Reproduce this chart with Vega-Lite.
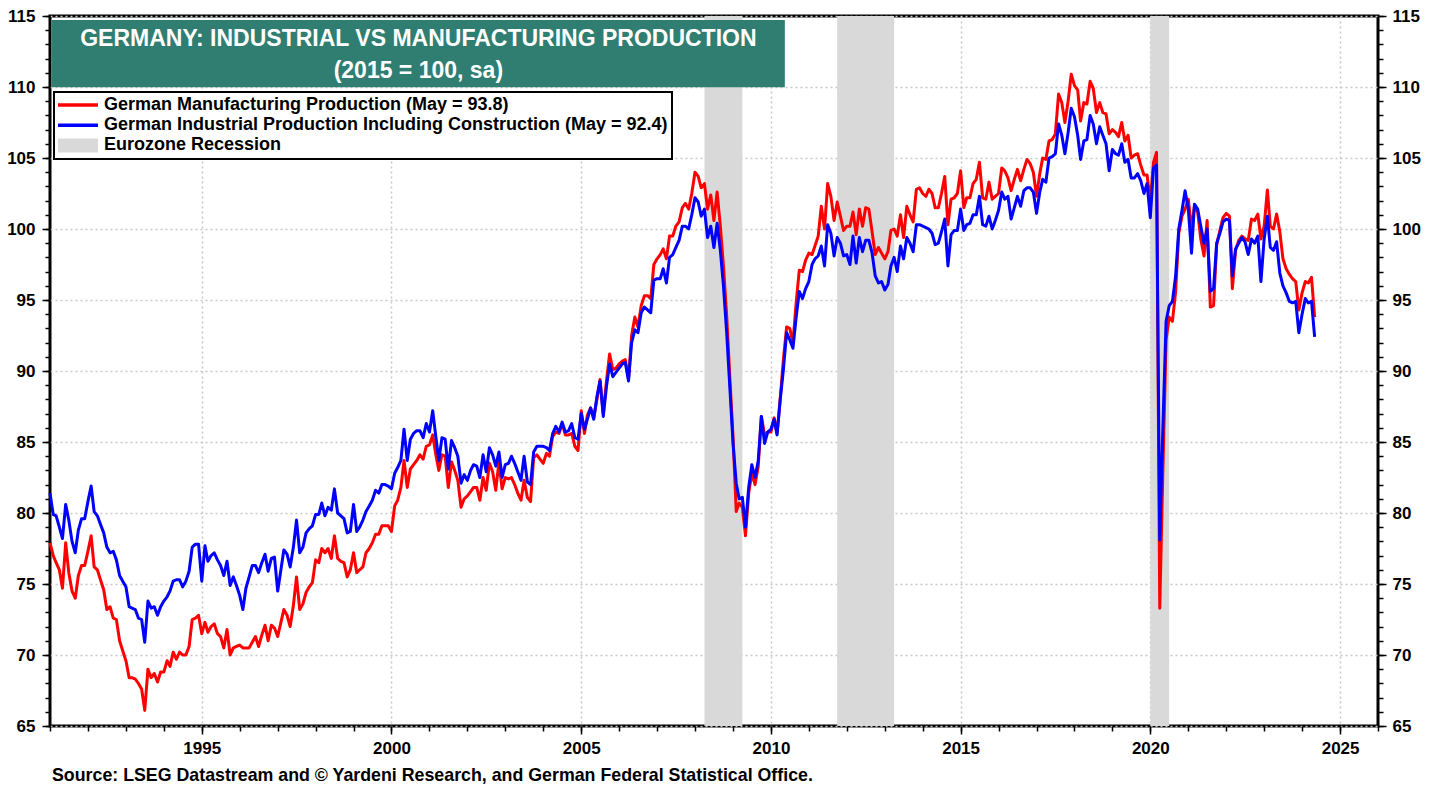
{
"$schema":"https://vega.github.io/schema/vega-lite/v6.json",
"width":1328,"height":710,"autosize":"none",
"padding":{"left":50,"top":16,"right":61,"bottom":63},
"background":"white",
"config":{"view":{"stroke":"black","strokeWidth":3},"font":"Liberation Sans",
"axis":{"labelFont":"Liberation Sans","labelFontWeight":"bold","labelColor":"black","labelFontSize":17,"tickColor":"black","tickWidth":1.5,"domain":false,"title":null,"gridColor":"#c8c8c8","gridDash":[2,3],"gridWidth":1.5}},
"title":{"text":"Source: LSEG Datastream and © Yardeni Research, and German Federal Statistical Office.","orient":"bottom","anchor":"start","frame":"group","font":"Liberation Sans","fontSize":17.8,"fontWeight":"bold","color":"black","offset":11,"dx":2},
"datasets":{
"rec":[{"s":"2008-04-01","e":"2009-04-01"},{"s":"2011-10-01","e":"2013-04-01"},{"s":"2020-01-01","e":"2020-07-01"}],
"ts":[
{"d":"1991-01","m":77.9,"i":81.4},{"d":"1991-02","m":77.0,"i":79.9},{"d":"1991-03","m":76.5,"i":79.8},{"d":"1991-04","m":76.0,"i":79.0},{"d":"1991-05","m":74.7,"i":78.2},{"d":"1991-06","m":77.9,"i":80.6},{"d":"1991-07","m":75.8,"i":79.5},{"d":"1991-08","m":74.5,"i":78.0},{"d":"1991-09","m":74.0,"i":77.2},{"d":"1991-10","m":75.6,"i":78.8},{"d":"1991-11","m":76.3,"i":79.6},{"d":"1991-12","m":76.3,"i":79.6},
{"d":"1992-01","m":77.3,"i":80.8},{"d":"1992-02","m":78.4,"i":81.9},{"d":"1992-03","m":76.2,"i":80.1},{"d":"1992-04","m":76.0,"i":79.8},{"d":"1992-05","m":75.3,"i":79.2},{"d":"1992-06","m":74.6,"i":78.6},{"d":"1992-07","m":73.2,"i":77.6},{"d":"1992-08","m":73.4,"i":77.2},{"d":"1992-09","m":72.6,"i":77.3},{"d":"1992-10","m":72.5,"i":76.7},{"d":"1992-11","m":71.0,"i":75.6},{"d":"1992-12","m":70.3,"i":75.2},
{"d":"1993-01","m":69.6,"i":74.8},{"d":"1993-02","m":68.4,"i":73.4},{"d":"1993-03","m":68.4,"i":73.3},{"d":"1993-04","m":68.3,"i":73.2},{"d":"1993-05","m":68.0,"i":72.6},{"d":"1993-06","m":67.6,"i":72.5},{"d":"1993-07","m":66.1,"i":70.9},{"d":"1993-08","m":69.0,"i":73.8},{"d":"1993-09","m":68.4,"i":73.3},{"d":"1993-10","m":68.7,"i":73.4},{"d":"1993-11","m":68.1,"i":72.8},{"d":"1993-12","m":68.8,"i":73.4},
{"d":"1994-01","m":68.8,"i":73.8},{"d":"1994-02","m":69.6,"i":74.1},{"d":"1994-03","m":69.2,"i":74.5},{"d":"1994-04","m":70.2,"i":75.2},{"d":"1994-05","m":69.7,"i":75.3},{"d":"1994-06","m":70.2,"i":75.3},{"d":"1994-07","m":70.0,"i":74.8},{"d":"1994-08","m":70.0,"i":75.2},{"d":"1994-09","m":70.6,"i":75.9},{"d":"1994-10","m":72.5,"i":77.6},{"d":"1994-11","m":72.6,"i":77.8},{"d":"1994-12","m":72.8,"i":77.8},
{"d":"1995-01","m":71.5,"i":75.2},{"d":"1995-02","m":72.3,"i":77.7},{"d":"1995-03","m":71.6,"i":76.6},{"d":"1995-04","m":72.0,"i":77.0},{"d":"1995-05","m":72.2,"i":77.2},{"d":"1995-06","m":71.5,"i":76.7},{"d":"1995-07","m":71.3,"i":76.3},{"d":"1995-08","m":70.5,"i":75.6},{"d":"1995-09","m":71.8,"i":76.6},{"d":"1995-10","m":70.0,"i":74.9},{"d":"1995-11","m":70.5,"i":75.5},{"d":"1995-12","m":70.6,"i":74.9},
{"d":"1996-01","m":70.7,"i":74.2},{"d":"1996-02","m":70.5,"i":73.2},{"d":"1996-03","m":70.5,"i":74.7},{"d":"1996-04","m":70.5,"i":75.5},{"d":"1996-05","m":70.9,"i":76.3},{"d":"1996-06","m":71.3,"i":76.3},{"d":"1996-07","m":70.6,"i":75.8},{"d":"1996-08","m":71.4,"i":76.5},{"d":"1996-09","m":72.1,"i":77.1},{"d":"1996-10","m":71.0,"i":75.9},{"d":"1996-11","m":72.1,"i":76.8},{"d":"1996-12","m":71.9,"i":76.9},
{"d":"1997-01","m":71.3,"i":74.5},{"d":"1997-02","m":72.3,"i":76.0},{"d":"1997-03","m":73.2,"i":77.4},{"d":"1997-04","m":72.8,"i":77.1},{"d":"1997-05","m":72.0,"i":76.2},{"d":"1997-06","m":73.5,"i":77.6},{"d":"1997-07","m":75.5,"i":79.5},{"d":"1997-08","m":73.2,"i":77.2},{"d":"1997-09","m":73.6,"i":77.6},{"d":"1997-10","m":74.4,"i":78.6},{"d":"1997-11","m":74.8,"i":78.9},{"d":"1997-12","m":75.1,"i":79.1},
{"d":"1998-01","m":76.7,"i":79.9},{"d":"1998-02","m":76.5,"i":79.9},{"d":"1998-03","m":77.5,"i":80.7},{"d":"1998-04","m":77.2,"i":79.8},{"d":"1998-05","m":77.5,"i":80.4},{"d":"1998-06","m":76.8,"i":80.2},{"d":"1998-07","m":78.4,"i":81.7},{"d":"1998-08","m":76.8,"i":80.0},{"d":"1998-09","m":76.6,"i":79.8},{"d":"1998-10","m":76.5,"i":79.6},{"d":"1998-11","m":75.5,"i":78.6},{"d":"1998-12","m":76.0,"i":78.7},
{"d":"1999-01","m":77.2,"i":80.6},{"d":"1999-02","m":75.8,"i":78.7},{"d":"1999-03","m":76.0,"i":79.0},{"d":"1999-04","m":76.2,"i":79.5},{"d":"1999-05","m":77.2,"i":80.1},{"d":"1999-06","m":77.5,"i":80.5},{"d":"1999-07","m":77.9,"i":80.9},{"d":"1999-08","m":78.5,"i":81.6},{"d":"1999-09","m":78.5,"i":81.4},{"d":"1999-10","m":79.1,"i":82.0},{"d":"1999-11","m":79.1,"i":82.0},{"d":"1999-12","m":79.1,"i":81.9},
{"d":"2000-01","m":78.7,"i":81.7},{"d":"2000-02","m":80.5,"i":82.8},{"d":"2000-03","m":80.9,"i":83.2},{"d":"2000-04","m":81.8,"i":83.7},{"d":"2000-05","m":83.7,"i":85.9},{"d":"2000-06","m":81.8,"i":83.7},{"d":"2000-07","m":83.1,"i":85.2},{"d":"2000-08","m":83.4,"i":85.6},{"d":"2000-09","m":83.7,"i":85.8},{"d":"2000-10","m":84.1,"i":85.8},{"d":"2000-11","m":83.8,"i":85.3},{"d":"2000-12","m":84.7,"i":86.3},
{"d":"2001-01","m":84.8,"i":85.7},{"d":"2001-02","m":85.5,"i":87.2},{"d":"2001-03","m":84.2,"i":85.5},{"d":"2001-04","m":83.0,"i":83.7},{"d":"2001-05","m":84.1,"i":85.3},{"d":"2001-06","m":84.0,"i":85.2},{"d":"2001-07","m":81.8,"i":83.1},{"d":"2001-08","m":83.6,"i":85.1},{"d":"2001-09","m":83.0,"i":84.6},{"d":"2001-10","m":82.3,"i":84.0},{"d":"2001-11","m":80.4,"i":82.1},{"d":"2001-12","m":81.0,"i":82.7},
{"d":"2002-01","m":81.2,"i":82.3},{"d":"2002-02","m":81.5,"i":83.0},{"d":"2002-03","m":81.8,"i":83.4},{"d":"2002-04","m":81.8,"i":83.3},{"d":"2002-05","m":80.9,"i":82.5},{"d":"2002-06","m":82.5,"i":84.1},{"d":"2002-07","m":81.6,"i":82.9},{"d":"2002-08","m":83.5,"i":84.6},{"d":"2002-09","m":82.9,"i":84.1},{"d":"2002-10","m":81.6,"i":83.3},{"d":"2002-11","m":83.6,"i":84.3},{"d":"2002-12","m":81.7,"i":82.5},
{"d":"2003-01","m":82.5,"i":83.4},{"d":"2003-02","m":82.4,"i":83.5},{"d":"2003-03","m":82.5,"i":84.0},{"d":"2003-04","m":82.0,"i":83.5},{"d":"2003-05","m":81.4,"i":82.9},{"d":"2003-06","m":80.9,"i":82.3},{"d":"2003-07","m":82.3,"i":84.0},{"d":"2003-08","m":81.1,"i":82.2},{"d":"2003-09","m":80.8,"i":82.0},{"d":"2003-10","m":83.9,"i":84.3},{"d":"2003-11","m":84.1,"i":84.7},{"d":"2003-12","m":83.8,"i":84.7},
{"d":"2004-01","m":83.5,"i":84.7},{"d":"2004-02","m":84.2,"i":84.6},{"d":"2004-03","m":84.0,"i":84.4},{"d":"2004-04","m":85.4,"i":85.6},{"d":"2004-05","m":85.7,"i":86.1},{"d":"2004-06","m":85.6,"i":85.7},{"d":"2004-07","m":86.3,"i":86.4},{"d":"2004-08","m":85.5,"i":85.7},{"d":"2004-09","m":85.5,"i":85.8},{"d":"2004-10","m":85.6,"i":86.3},{"d":"2004-11","m":84.7,"i":85.3},{"d":"2004-12","m":84.4,"i":85.2},
{"d":"2005-01","m":87.2,"i":87.0},{"d":"2005-02","m":85.6,"i":85.9},{"d":"2005-03","m":86.9,"i":86.6},{"d":"2005-04","m":87.4,"i":87.4},{"d":"2005-05","m":86.7,"i":86.6},{"d":"2005-06","m":88.0,"i":88.2},{"d":"2005-07","m":89.4,"i":89.3},{"d":"2005-08","m":87.0,"i":86.8},{"d":"2005-09","m":89.3,"i":88.9},{"d":"2005-10","m":91.2,"i":90.5},{"d":"2005-11","m":90.1,"i":89.6},{"d":"2005-12","m":90.2,"i":89.9},
{"d":"2006-01","m":90.5,"i":90.2},{"d":"2006-02","m":90.7,"i":90.5},{"d":"2006-03","m":90.8,"i":90.6},{"d":"2006-04","m":89.4,"i":89.3},{"d":"2006-05","m":92.5,"i":92.0},{"d":"2006-06","m":93.8,"i":92.9},{"d":"2006-07","m":93.1,"i":92.7},{"d":"2006-08","m":94.6,"i":94.1},{"d":"2006-09","m":95.3,"i":94.5},{"d":"2006-10","m":95.3,"i":94.3},{"d":"2006-11","m":95.1,"i":94.1},{"d":"2006-12","m":97.5,"i":96.4},
{"d":"2007-01","m":97.9,"i":96.5},{"d":"2007-02","m":98.2,"i":96.5},{"d":"2007-03","m":98.6,"i":97.2},{"d":"2007-04","m":97.9,"i":96.2},{"d":"2007-05","m":99.5,"i":98.0},{"d":"2007-06","m":99.5,"i":98.2},{"d":"2007-07","m":100.2,"i":98.7},{"d":"2007-08","m":100.5,"i":99.2},{"d":"2007-09","m":101.5,"i":100.2},{"d":"2007-10","m":101.8,"i":100.2},{"d":"2007-11","m":101.4,"i":100.0},{"d":"2007-12","m":102.5,"i":101.0},
{"d":"2008-01","m":104.0,"i":102.2},{"d":"2008-02","m":103.7,"i":101.9},{"d":"2008-03","m":102.9,"i":100.9},{"d":"2008-04","m":103.2,"i":101.4},{"d":"2008-05","m":101.4,"i":99.4},{"d":"2008-06","m":102.4,"i":100.2},{"d":"2008-07","m":100.6,"i":98.7},{"d":"2008-08","m":102.6,"i":100.4},{"d":"2008-09","m":100.2,"i":98.5},{"d":"2008-10","m":97.4,"i":96.0},{"d":"2008-11","m":93.9,"i":92.7},{"d":"2008-12","m":89.6,"i":88.9},
{"d":"2009-01","m":85.4,"i":84.9},{"d":"2009-02","m":80.1,"i":82.1},{"d":"2009-03","m":80.7,"i":81.0},{"d":"2009-04","m":80.4,"i":81.1},{"d":"2009-05","m":78.4,"i":79.0},{"d":"2009-06","m":81.4,"i":81.8},{"d":"2009-07","m":82.8,"i":83.4},{"d":"2009-08","m":82.0,"i":82.5},{"d":"2009-09","m":83.3,"i":83.7},{"d":"2009-10","m":86.8,"i":86.8},{"d":"2009-11","m":85.5,"i":84.9},{"d":"2009-12","m":85.7,"i":85.7},
{"d":"2010-01","m":85.7,"i":85.9},{"d":"2010-02","m":86.7,"i":86.6},{"d":"2010-03","m":85.6,"i":85.5},{"d":"2010-04","m":88.1,"i":88.0},{"d":"2010-05","m":90.8,"i":90.1},{"d":"2010-06","m":93.1,"i":92.7},{"d":"2010-07","m":93.0,"i":92.2},{"d":"2010-08","m":92.0,"i":91.6},{"d":"2010-09","m":94.8,"i":93.8},{"d":"2010-10","m":97.1,"i":95.6},{"d":"2010-11","m":97.0,"i":95.1},{"d":"2010-12","m":97.8,"i":95.8},
{"d":"2011-01","m":98.3,"i":96.3},{"d":"2011-02","m":98.2,"i":97.5},{"d":"2011-03","m":98.8,"i":97.9},{"d":"2011-04","m":99.5,"i":98.1},{"d":"2011-05","m":101.6,"i":98.8},{"d":"2011-06","m":100.0,"i":97.4},{"d":"2011-07","m":103.2,"i":100.3},{"d":"2011-08","m":102.3,"i":99.7},{"d":"2011-09","m":100.6,"i":98.1},{"d":"2011-10","m":101.9,"i":99.4},{"d":"2011-11","m":100.9,"i":99.0},{"d":"2011-12","m":99.9,"i":98.1},
{"d":"2012-01","m":100.2,"i":98.2},{"d":"2012-02","m":100.2,"i":97.5},{"d":"2012-03","m":101.2,"i":99.5},{"d":"2012-04","m":99.6,"i":97.6},{"d":"2012-05","m":101.4,"i":99.4},{"d":"2012-06","m":100.2,"i":98.4},{"d":"2012-07","m":101.5,"i":99.2},{"d":"2012-08","m":101.4,"i":99.2},{"d":"2012-09","m":99.8,"i":98.3},{"d":"2012-10","m":98.2,"i":96.7},{"d":"2012-11","m":98.7,"i":96.2},{"d":"2012-12","m":98.3,"i":96.3},
{"d":"2013-01","m":97.9,"i":95.7},{"d":"2013-02","m":98.4,"i":96.1},{"d":"2013-03","m":99.9,"i":97.4},{"d":"2013-04","m":100.0,"i":98.0},{"d":"2013-05","m":99.5,"i":97.0},{"d":"2013-06","m":101.0,"i":98.8},{"d":"2013-07","m":99.4,"i":97.9},{"d":"2013-08","m":101.6,"i":99.4},{"d":"2013-09","m":101.0,"i":99.0},{"d":"2013-10","m":100.5,"i":98.4},{"d":"2013-11","m":102.8,"i":100.3},{"d":"2013-12","m":102.9,"i":100.3},
{"d":"2014-01","m":102.5,"i":100.2},{"d":"2014-02","m":102.3,"i":100.1},{"d":"2014-03","m":102.8,"i":100.0},{"d":"2014-04","m":102.5,"i":99.7},{"d":"2014-05","m":101.5,"i":98.9},{"d":"2014-06","m":101.5,"i":99.0},{"d":"2014-07","m":102.5,"i":99.8},{"d":"2014-08","m":103.7,"i":100.7},{"d":"2014-09","m":100.3,"i":97.4},{"d":"2014-10","m":102.1,"i":99.6},{"d":"2014-11","m":102.2,"i":99.9},{"d":"2014-12","m":102.5,"i":99.9},
{"d":"2015-01","m":104.1,"i":101.4},{"d":"2015-02","m":101.5,"i":99.9},{"d":"2015-03","m":102.2,"i":100.3},{"d":"2015-04","m":102.2,"i":100.4},{"d":"2015-05","m":103.2,"i":101.0},{"d":"2015-06","m":103.5,"i":101.0},{"d":"2015-07","m":104.7,"i":102.3},{"d":"2015-08","m":102.2,"i":100.3},{"d":"2015-09","m":102.1,"i":100.2},{"d":"2015-10","m":103.3,"i":100.9},{"d":"2015-11","m":102.1,"i":100.0},{"d":"2015-12","m":102.3,"i":100.6},
{"d":"2016-01","m":102.5,"i":101.3},{"d":"2016-02","m":104.3,"i":102.6},{"d":"2016-03","m":104.1,"i":102.1},{"d":"2016-04","m":103.6,"i":102.3},{"d":"2016-05","m":102.7,"i":100.7},{"d":"2016-06","m":103.5,"i":101.5},{"d":"2016-07","m":104.2,"i":102.3},{"d":"2016-08","m":103.4,"i":101.6},{"d":"2016-09","m":104.2,"i":102.7},{"d":"2016-10","m":104.9,"i":102.9},{"d":"2016-11","m":104.6,"i":102.9},{"d":"2016-12","m":104.0,"i":102.6},
{"d":"2017-01","m":102.3,"i":101.1},{"d":"2017-02","m":103.9,"i":102.6},{"d":"2017-03","m":105.0,"i":103.5},{"d":"2017-04","m":104.9,"i":103.3},{"d":"2017-05","m":106.2,"i":105.0},{"d":"2017-06","m":106.3,"i":105.1},{"d":"2017-07","m":106.7,"i":105.3},{"d":"2017-08","m":109.5,"i":107.4},{"d":"2017-09","m":108.9,"i":106.6},{"d":"2017-10","m":107.5,"i":105.3},{"d":"2017-11","m":109.0,"i":106.8},{"d":"2017-12","m":110.9,"i":108.5},
{"d":"2018-01","m":110.1,"i":107.9},{"d":"2018-02","m":109.8,"i":106.6},{"d":"2018-03","m":107.6,"i":104.9},{"d":"2018-04","m":108.9,"i":106.2},{"d":"2018-05","m":108.8,"i":106.3},{"d":"2018-06","m":110.4,"i":108.0},{"d":"2018-07","m":109.9,"i":107.4},{"d":"2018-08","m":108.2,"i":106.0},{"d":"2018-09","m":108.9,"i":107.2},{"d":"2018-10","m":108.2,"i":106.6},{"d":"2018-11","m":108.1,"i":106.0},{"d":"2018-12","m":106.7,"i":104.1},
{"d":"2019-01","m":107.0,"i":105.6},{"d":"2019-02","m":106.8,"i":105.3},{"d":"2019-03","m":106.5,"i":105.2},{"d":"2019-04","m":107.5,"i":106.0},{"d":"2019-05","m":106.2,"i":104.7},{"d":"2019-06","m":106.6,"i":104.9},{"d":"2019-07","m":105.0,"i":103.6},{"d":"2019-08","m":105.2,"i":103.6},{"d":"2019-09","m":105.3,"i":103.9},{"d":"2019-10","m":104.5,"i":103.4},{"d":"2019-11","m":103.8,"i":102.5},{"d":"2019-12","m":103.8,"i":103.2},
{"d":"2020-01","m":101.9,"i":100.8},{"d":"2020-02","m":104.7,"i":104.3},{"d":"2020-03","m":105.4,"i":104.5},{"d":"2020-04","m":73.3,"i":78.1},{"d":"2020-05","m":83.0,"i":86.0},{"d":"2020-06","m":92.2,"i":93.5},{"d":"2020-07","m":93.8,"i":94.6},{"d":"2020-08","m":93.5,"i":94.9},{"d":"2020-09","m":95.6,"i":96.7},{"d":"2020-10","m":99.7,"i":100.0},{"d":"2020-11","m":100.9,"i":101.3},{"d":"2020-12","m":101.4,"i":102.7},
{"d":"2021-01","m":102.1,"i":101.4},{"d":"2021-02","m":100.0,"i":98.3},{"d":"2021-03","m":101.6,"i":101.75},{"d":"2021-04","m":101.2,"i":101.4},{"d":"2021-05","m":99.3,"i":100.2},{"d":"2021-06","m":98.1,"i":99.0},{"d":"2021-07","m":100.6,"i":100.0},{"d":"2021-08","m":94.5,"i":95.6},{"d":"2021-09","m":94.6,"i":95.8},{"d":"2021-10","m":98.9,"i":99.0},{"d":"2021-11","m":99.9,"i":99.7},{"d":"2021-12","m":100.8,"i":100.5},
{"d":"2022-01","m":101.1,"i":100.7},{"d":"2022-02","m":100.9,"i":100.6},{"d":"2022-03","m":95.8,"i":96.7},{"d":"2022-04","m":98.5,"i":98.6},{"d":"2022-05","m":99.2,"i":99.0},{"d":"2022-06","m":99.5,"i":99.4},{"d":"2022-07","m":99.3,"i":99.1},{"d":"2022-08","m":99.2,"i":98.2},{"d":"2022-09","m":100.7,"i":99.3},{"d":"2022-10","m":100.6,"i":99.0},{"d":"2022-11","m":101.05,"i":99.5},{"d":"2022-12","m":99.3,"i":96.3},
{"d":"2023-01","m":100.2,"i":99.3},{"d":"2023-02","m":102.75,"i":100.9},{"d":"2023-03","m":100.2,"i":98.7},{"d":"2023-04","m":100.0,"i":98.5},{"d":"2023-05","m":101.05,"i":99.1},{"d":"2023-06","m":99.8,"i":96.9},{"d":"2023-07","m":97.9,"i":96.0},{"d":"2023-08","m":97.2,"i":95.5},{"d":"2023-09","m":96.8,"i":94.9},{"d":"2023-10","m":96.5,"i":94.8},{"d":"2023-11","m":96.3,"i":94.9},{"d":"2023-12","m":94.3,"i":92.7},
{"d":"2024-01","m":95.5,"i":94.0},{"d":"2024-02","m":96.3,"i":95.1},{"d":"2024-03","m":96.2,"i":94.8},{"d":"2024-04","m":96.6,"i":94.9},{"d":"2024-05","m":93.8,"i":92.4}
]},
"layer":[
{"data":{"name":"rec"},"mark":{"type":"rect"},
 "encoding":{"x":{"field":"s","type":"temporal","axis":null},"x2":{"field":"e"},
 "color":{"datum":"Eurozone Recession","type":"nominal",
  "scale":{"domain":["German Manufacturing Production (May = 93.8)","German Industrial Production Including Construction (May = 92.4)","Eurozone Recession"],"range":["#ff0000","#0000ff","#d9d9d9"]},
  "legend":{"orient":"none","legendX":4,"legendY":76,"title":null,"padding":4,"rowPadding":2.2,"labelFont":"Liberation Sans","labelFontSize":18,"labelFontWeight":"bold","labelColor":"black","labelLimit":1000,
   "labelExpr":"datum.value === 'German Industrial Production Including Construction (May = 92.4)' ? datum.label + '\u2003\u2002' : datum.label",
   "symbolType":"M-4,-0.35H4V0.35H-4Z","symbolSize":100,"symbolOffset":11,"labelOffset":17,"symbolStrokeWidth":0,"fillColor":"white","strokeColor":"black",
   "encode":{"legend":{"update":{"strokeWidth":{"value":2}}},
    "symbols":{"update":{"shape":{"signal":"datum.value === 'Eurozone Recession' ? 'M-4,-1.4H4V1.4H-4Z' : 'M-4,-0.35H4V0.35H-4Z'"},"fill":{"signal":"scale('color', datum.value)"},"stroke":{"value":"transparent"},"opacity":{"value":1},"fillOpacity":{"value":1}}}}}}}},
{"data":{"values":[{}]},"mark":{"type":"rect","fill":"#2F7E71"},
 "encoding":{"x":{"datum":{"year":1991,"month":1,"date":17},"type":"temporal","axis":null},"x2":{"datum":{"year":2010,"month":5,"date":15}},
 "y":{"datum":114.72,"type":"quantitative","axis":{"orient":"left","values":[65,66,67,68,69,70,71,72,73,74,75,76,77,78,79,80,81,82,83,84,85,86,87,88,89,90,91,92,93,94,95,96,97,98,99,100,101,102,103,104,105,106,107,108,109,110,111,112,113,114,115],"labels":false,"grid":false,"tickSize":5}},"y2":{"datum":109.98}}},
{"data":{"values":[{}]},"mark":{"type":"text","color":"white","font":"Liberation Sans","fontSize":23,"fontWeight":"bold","align":"center","baseline":"alphabetic"},
 "encoding":{"x":{"datum":{"year":2000,"month":9,"date":16},"type":"temporal","axis":null},"y":{"datum":112.91,"type":"quantitative","axis":{"orient":"right","values":[65,66,67,68,69,70,71,72,73,74,75,76,77,78,79,80,81,82,83,84,85,86,87,88,89,90,91,92,93,94,95,96,97,98,99,100,101,102,103,104,105,106,107,108,109,110,111,112,113,114,115],"labels":false,"grid":false,"tickSize":5}},"text":{"value":"GERMANY: INDUSTRIAL VS MANUFACTURING PRODUCTION"}}},
{"data":{"values":[{}]},"mark":{"type":"text","color":"white","font":"Liberation Sans","fontSize":23,"fontWeight":"bold","align":"center","baseline":"alphabetic"},
 "encoding":{"x":{"datum":{"year":2000,"month":9,"date":16},"type":"temporal","axis":null},"y":{"datum":110.61,"type":"quantitative","axis":null},"text":{"value":"(2015 = 100, sa)"}}},
{"data":{"name":"ts"},"mark":{"type":"line","strokeWidth":3,"strokeJoin":"round"},
 "encoding":{"x":{"field":"d","type":"temporal","scale":{"domain":[{"year":1991,"month":1,"date":1},{"year":2026,"month":1,"date":1}],"nice":false},
   "axis":{"orient":"bottom","format":"%Y","tickCount":{"interval":"year","step":5},"grid":true,"tickSize":8,"labelPadding":6,"labelFontSize":17}},
  "y":{"field":"m","type":"quantitative","scale":{"domain":[65,115],"nice":false,"zero":false},
   "axis":{"orient":"left","values":[65,70,75,80,85,90,95,100,105,110,115],"grid":true,"tickSize":8,"labelPadding":7}},
  "color":{"datum":"German Manufacturing Production (May = 93.8)","type":"nominal"}}},
{"data":{"name":"ts"},"mark":{"type":"line","strokeWidth":3,"strokeJoin":"round"},
 "encoding":{"x":{"field":"d","type":"temporal","axis":{"orient":"bottom","tickCount":{"interval":"year","step":1},"labels":false,"grid":false,"tickSize":5}},
  "y":{"field":"i","type":"quantitative","axis":{"orient":"right","values":[65,70,75,80,85,90,95,100,105,110,115],"grid":false,"tickSize":8,"labelPadding":6}},
  "color":{"datum":"German Industrial Production Including Construction (May = 92.4)","type":"nominal"}}}
],
"resolve":{"axis":{"x":"independent","y":"independent"}}
}
